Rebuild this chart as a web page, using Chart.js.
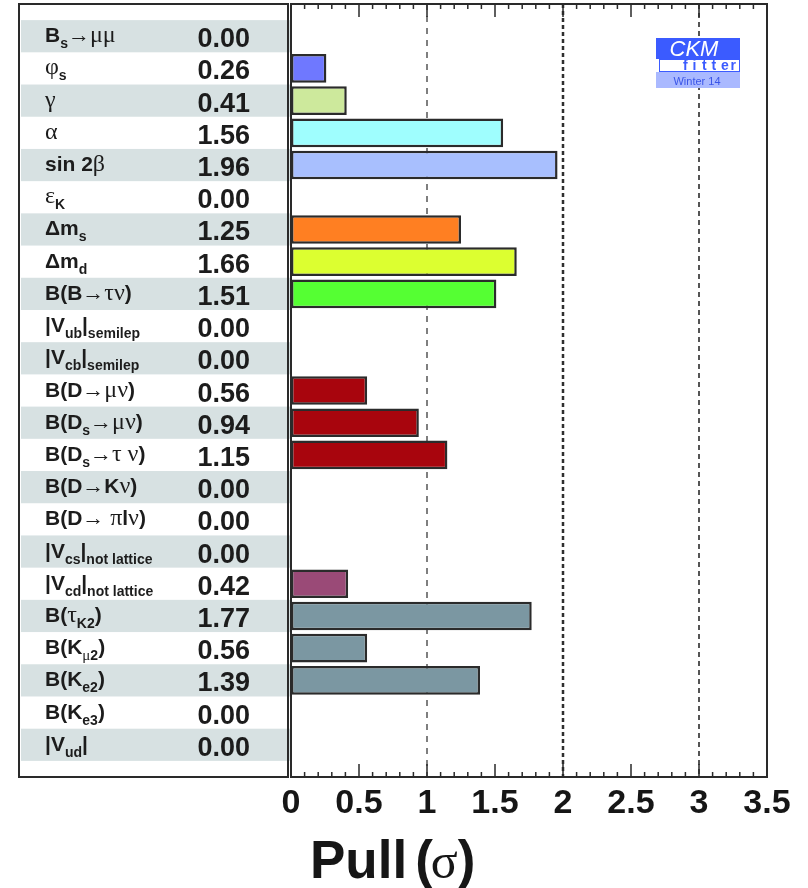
<!DOCTYPE html>
<html>
<head>
<meta charset="utf-8">
<script src="https://cdn.jsdelivr.net/npm/chart.js@4/dist/chart.umd.min.js"></script>
<style>
  html, body { margin: 0; padding: 0; background: #ffffff; }
  #wrap { width: 808px; height: 888px; position: relative; }
</style>
</head>
<body>
<div id="wrap"><canvas id="pulls" width="808" height="888"></canvas></div>
<script>
// Observables (top to bottom). "_{...}" marks a subscript.
const observables = [
  "B_{s}→μμ",
  "φ_{s}",
  "γ",
  "α",
  "sin 2β",
  "ε_{K}",
  "Δm_{s}",
  "Δm_{d}",
  "B(B→τν)",
  "|V_{ub}|_{semilep}",
  "|V_{cb}|_{semilep}",
  "B(D→μν)",
  "B(D_{s}→μν)",
  "B(D_{s}→τ ν)",
  "B(D→Kν)",
  "B(D→ πlν)",
  "|V_{cs}|_{not lattice}",
  "|V_{cd}|_{not lattice}",
  "B(τ_{K2})",
  "B(K_{μ2})",
  "B(K_{e2})",
  "B(K_{e3})",
  "|V_{ud}|"
];

// Pull of each observable, in units of sigma
const pulls = [
  0.00, 0.26, 0.41, 1.56, 1.96, 0.00, 1.25, 1.66, 1.51, 0.00, 0.00, 0.56,
  0.94, 1.15, 0.00, 0.00, 0.00, 0.42, 1.77, 0.56, 1.39, 0.00, 0.00
];

// Fill colour of each bar
const barColors = [
  "#ffffff", "#6f78ff", "#cde99c", "#9ffefe", "#a8bffe", "#ffffff",
  "#ff7f22", "#dcff30", "#55ff33", "#ffffff", "#ffffff", "#a8050d",
  "#a8050d", "#a8050d", "#ffffff", "#ffffff", "#ffffff", "#9a4a77",
  "#7b97a2", "#7b97a2", "#7b97a2", "#ffffff", "#ffffff"
];

// Pull axis range and reference lines
const pullRange = [0, 3.5];
const sigmaLines = [1, 2, 3];

const SANS = '"Liberation Sans", Arial, Helvetica, sans-serif';
const SERIF = '"Liberation Serif", "Times New Roman", serif';
const GREEK = "αβγεμντπφσ";

function parseLabel(s) {
  const segs = [];
  let i = 0;
  while (i < s.length) {
    if (s[i] === "_" && s[i + 1] === "{") {
      const j = s.indexOf("}", i);
      segs.push({ t: s.slice(i + 2, j), sub: true });
      i = j + 1;
    } else {
      let j = i;
      while (j < s.length && !(s[j] === "_" && s[j + 1] === "{")) j++;
      segs.push({ t: s.slice(i, j), sub: false });
      i = j;
    }
  }
  return segs;
}

function drawRichLabel(ctx, text, x, baseline) {
  let cx = x;
  for (const seg of parseLabel(text)) {
    const y = seg.sub ? baseline + 6 : baseline;
    for (const ch of seg.t) {
      const greek = GREEK.includes(ch);
      if (seg.sub) {
        ctx.font = greek ? "15px " + SERIF : "bold 14px " + SANS;
      } else if (ch === "→") {
        ctx.font = "bold 22px " + SANS;
      } else {
        ctx.font = greek ? "24px " + SERIF : "bold 21px " + SANS;
      }
      ctx.fillText(ch, cx, y);
      cx += ctx.measureText(ch).width;
    }
  }
}

const panelPlugin = {
  id: "pullPanel",
  beforeDatasetsDraw(chart) {
    const { ctx, chartArea: a, scales } = chart;
    const y = scales.y, x = scales.x;
    ctx.save();
    // striped rows in the table
    ctx.fillStyle = "#d7e1e2";
    observables.forEach((_, i) => {
      if (i % 2 !== 0) return;
      const t = y.getPixelForValue(i - 0.5), b = y.getPixelForValue(i + 0.5);
      ctx.fillRect(21, Math.min(t, b), a.left - 21, Math.abs(b - t));
    });
    // dashed sigma lines
    const styles = [
      { w: 1.5, d: [6, 6], c: "#555555" },
      { w: 2.5, d: [4, 3], c: "#2e2e2e" },
      { w: 2, d: [5, 4], c: "#555555" }
    ];
    sigmaLines.forEach((v, k) => {
      const px = x.getPixelForValue(v);
      ctx.strokeStyle = styles[k].c;
      ctx.lineWidth = styles[k].w;
      ctx.setLineDash(styles[k].d);
      ctx.beginPath();
      ctx.moveTo(px, a.top);
      ctx.lineTo(px, a.bottom);
      ctx.stroke();
    });
    ctx.setLineDash([]);
    // row labels and values
    ctx.fillStyle = "#1c1c1c";
    ctx.textBaseline = "alphabetic";
    observables.forEach((lab, i) => {
      const c = y.getPixelForValue(i);
      ctx.textAlign = "left";
      drawRichLabel(ctx, lab, 45, c + 6);
      ctx.textAlign = "right";
      ctx.font = "bold 27px " + SANS;
      ctx.fillText(pulls[i].toFixed(2), 250, c + 11);
    });
    ctx.restore();
  },
  afterDatasetsDraw(chart) {
    const { ctx, chartArea: a, scales } = chart;
    const x = scales.x;
    ctx.save();
    ctx.strokeStyle = "#2a2a2a";
    ctx.lineWidth = 2;
    // table frame and plot frame
    ctx.strokeRect(19, a.top, a.left - 3 - 19, a.bottom - a.top);
    ctx.strokeRect(a.left, a.top, a.right - a.left, a.bottom - a.top);
    // tick marks (major every 0.5, minor every 0.1) on top and bottom
    ctx.lineWidth = 1.5;
    for (let k = 1; k < 35; k++) {
      const v = k / 10;
      const px = x.getPixelForValue(v);
      const len = k % 5 === 0 ? 13 : 5;
      ctx.beginPath();
      ctx.moveTo(px, a.bottom);
      ctx.lineTo(px, a.bottom - len);
      ctx.moveTo(px, a.top);
      ctx.lineTo(px, a.top + len);
      ctx.stroke();
    }
    // CKMfitter badge
    const lx = 656, ly = 38, lw = 84;
    ctx.fillStyle = "#3b5bff";
    ctx.fillRect(lx, ly, lw, 21);
    ctx.fillStyle = "#ffffff";
    ctx.fillRect(lx, ly + 21, lw, 13);
    ctx.strokeStyle = "#3b5bff";
    ctx.lineWidth = 1;
    ctx.strokeRect(lx + 3.5, ly + 21.5, lw - 4, 12);
    ctx.fillStyle = "#aab9ff";
    ctx.fillRect(lx, ly + 34, lw, 16);
    ctx.textAlign = "center";
    ctx.textBaseline = "alphabetic";
    ctx.fillStyle = "#ffffff";
    ctx.font = "italic 22px " + SANS;
    ctx.fillText("CKM", lx + 38, ly + 18);
    ctx.fillStyle = "#3b5bff";
    ctx.font = "bold 14px " + SANS;
    const fit = "fitter";
    let fx = lx + 27;
    ctx.textAlign = "left";
    for (const ch of fit) { ctx.fillText(ch, fx, ly + 32); fx += 9.5; }
    ctx.textAlign = "center";
    ctx.fillStyle = "#3a55e8";
    ctx.font = "11px " + SANS;
    ctx.fillText("Winter 14", lx + 41, ly + 47);
    // axis title
    ctx.fillStyle = "#161616";
    ctx.textAlign = "left";
    let tx = 310;
    ctx.font = "bold 53px " + SANS;
    ctx.fillText("Pull", tx, 878);
    tx += ctx.measureText("Pull").width + 8;
    ctx.fillText("(", tx, 878);
    tx += ctx.measureText("(").width - 2;
    ctx.font = "50px " + SERIF;
    ctx.fillText("σ", tx, 878);
    tx += ctx.measureText("σ").width;
    ctx.font = "bold 53px " + SANS;
    ctx.fillText(")", tx, 878);
    ctx.restore();
  }
};

new Chart(document.getElementById("pulls"), {
  type: "bar",
  data: {
    datasets: [{
      data: pulls.map((v, i) => ({ x: v, y: i })),
      backgroundColor: barColors,
      borderColor: "#2b2b2b",
      borderWidth: (c) => (pulls[c.dataIndex] > 0 ? 2.5 : 0),
      borderSkipped: false,
      barPercentage: 1,
      categoryPercentage: 0.89
    }]
  },
  options: {
    indexAxis: "y",
    responsive: false,
    animation: false,
    devicePixelRatio: 1,
    layout: { padding: { left: 291, right: 41, top: 4, bottom: 0 } },
    plugins: { legend: { display: false }, tooltip: { enabled: false } },
    scales: {
      y: {
        type: "linear", min: -1, max: 23, reverse: true, offset: false, display: false
      },
      x: {
        type: "linear", min: pullRange[0], max: pullRange[1], position: "bottom",
        grid: { display: false, drawTicks: false },
        border: { display: false },
        ticks: {
          stepSize: 0.5, autoSkip: false, maxRotation: 0, padding: 6,
          color: "#161616",
          font: { family: SANS, size: 34, weight: "bold" },
          callback: (v) => String(Number(v))
        },
        afterFit(s) { s.height = 111; }
      }
    }
  },
  plugins: [panelPlugin]
});
</script>
</body>
</html>
